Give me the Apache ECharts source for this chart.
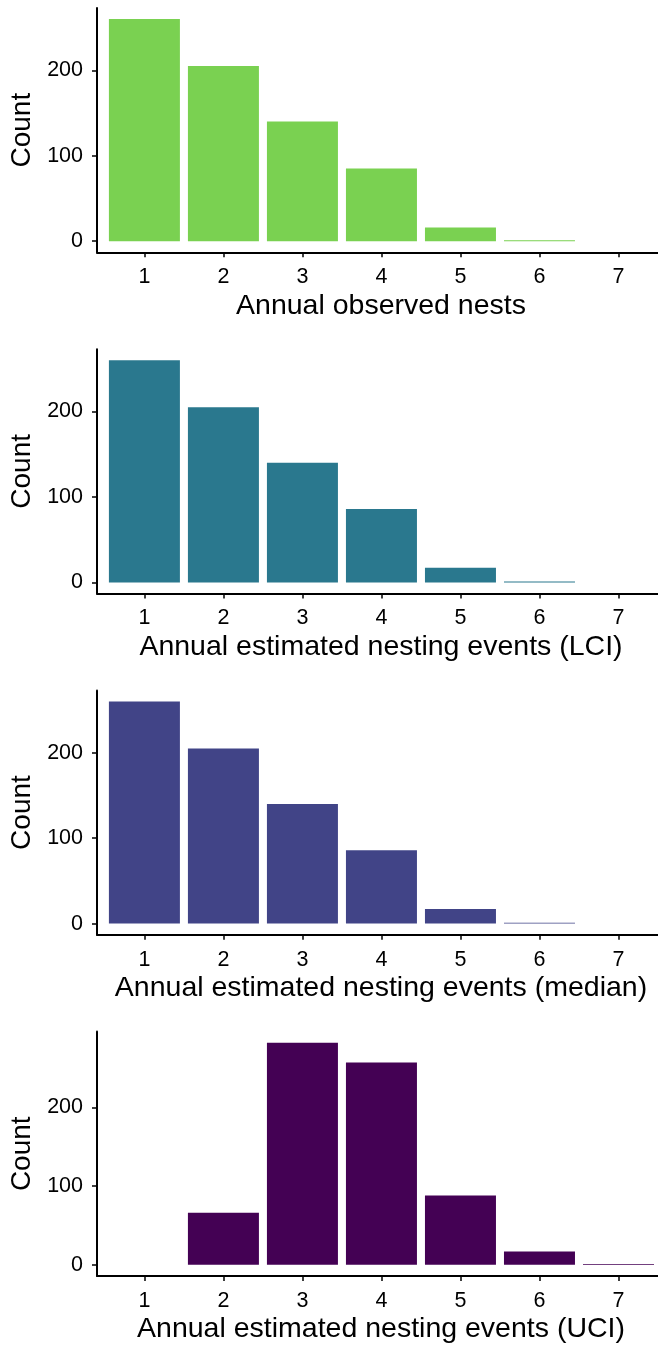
<!DOCTYPE html>
<html>
<head>
<meta charset="utf-8">
<script src="https://cdn.jsdelivr.net/npm/echarts@6/dist/echarts.min.js"></script>
<style>
  html, body { margin: 0; padding: 0; background: #fff; }
  #chart { width: 658px; height: 1347px; }
</style>
</head>
<body>
<div id="chart"></div>
<script>
// data
const categories = [1, 2, 3, 4, 5, 6, 7];
const observedNests = [260, 205, 140, 85, 16, 1, 0];
const lciEvents = [260, 205, 140, 86, 17, 1, 0];
const medianEvents = [260, 205, 140, 86, 17, 1, 0];
const uciEvents = [0, 66, 282, 257, 88, 17, 1];
const yTicks = [0, 100, 200];
const xTitles = [
  "Annual observed nests",
  "Annual estimated nesting events (LCI)",
  "Annual estimated nesting events (median)",
  "Annual estimated nesting events (UCI)",
];
const panelValues = [observedNests, lciEvents, medianEvents, uciEvents];
const colors = ["#7AD151", "#2A788E", "#414487", "#440154"];

const FONT = "Liberation Sans, Arial, sans-serif";
const panelTop = 8;
const panelStep = 341.2;
const panelHeight = 244.3;

const grid = [];
const xAxis = [];
const yAxis = [];
const series = [];

panelValues.forEach((vals, i) => {
  const vmax = Math.max(...vals);
  grid.push({
    left: 97,
    right: 0,
    top: panelTop + i * panelStep,
    height: panelHeight,
    containLabel: false,
  });
  xAxis.push({
    type: "value",
    gridIndex: i,
    min: 0.4,
    max: 7.5,
    name: xTitles[i],
    nameLocation: "middle",
    nameGap: 39,
    nameTextStyle: { fontFamily: FONT, fontSize: 28.5, color: "#000", padding: [0, 0, 0, 7] },
    splitLine: { show: false },
    axisLine: { show: true, onZero: false, lineStyle: { color: "#000", width: 2 } },
    axisTick: { show: true, length: 5, customValues: categories, lineStyle: { color: "#000", width: 1.5 } },
    axisLabel: { customValues: categories, margin: 14, fontFamily: FONT, fontSize: 21.5, color: "#000" },
  });
  yAxis.push({
    type: "value",
    gridIndex: i,
    min: -0.05 * vmax,
    max: 1.05 * vmax,
    name: "Count",
    nameLocation: "middle",
    nameGap: 56,
    nameTextStyle: { fontFamily: FONT, fontSize: 28, color: "#000" },
    splitLine: { show: false },
    axisLine: { show: true, lineStyle: { color: "#000", width: 2 } },
    axisTick: { show: true, length: 5, customValues: yTicks, lineStyle: { color: "#000", width: 1.5 } },
    axisLabel: { customValues: yTicks, margin: 14, fontFamily: FONT, fontSize: 21.5, color: "#000" },
  });
  series.push({
    type: "bar",
    xAxisIndex: i,
    yAxisIndex: i,
    barWidth: 71,
    itemStyle: { color: colors[i] },
    data: categories.map((c, k) => [c, vals[k]]),
  });
});

const chart = echarts.init(document.getElementById("chart"));
chart.setOption({
  animation: false,
  grid,
  xAxis,
  yAxis,
  series,
});
</script>
</body>
</html>
